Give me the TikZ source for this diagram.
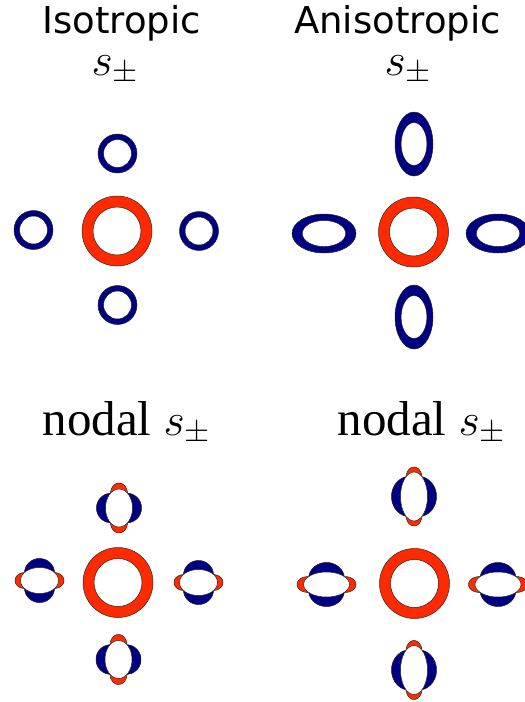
\RequirePackage{fix-cm}
\documentclass[tikz,border=0pt]{standalone}
\usepackage{fontspec}
\usepackage{amsmath}
\newfontfamily\titlefont{DejaVu Sans}
\newfontfamily\nodalfont{Liberation Serif}
\usepackage{tikz}
\usetikzlibrary{positioning}
\definecolor{posred}{RGB}{255,42,0}
\definecolor{negblue}{RGB}{0,0,130}

\begin{document}
\begin{tikzpicture}[x=1pt, y=-1pt,
  title/.style={font=\titlefont\fontsize{37}{44}\selectfont, inner sep=0pt, anchor=base},
  symlbl/.style={font=\fontsize{46}{56}\selectfont, inner sep=0pt, anchor=base},
  nodallbl/.style={font=\nodalfont\fontsize{49}{58}\selectfont, inner sep=0pt, anchor=base},
  edge/.style={draw=black!85, line width=0.5pt},
  hole/.style={fill=white, draw=black!85, line width=0.5pt}]

  \useasboundingbox (0,0) rectangle (525,702);

  % ---- Titles ----
  \node[title]  (isotitle) at (121.5,33) {Isotropic};
  \node[title]  (anititle) at (397.5,33) {Anisotropic};
  \node[symlbl] (isosym)   at (115,75)   {$s_\pm$};
  \node[symlbl] (anisym)   at (408,75)   {$s_\pm$};
  \node[nodallbl] (isonodal) at (126.5,435) {nodal \fontsize{46}{56}\selectfont$s_\pm$};
  \node[nodallbl] (aninodal) at (421.5,435) {nodal \fontsize{46}{56}\selectfont$s_\pm$};

  % ---- Central hole pockets (sign +) ----
  \foreach \cx/\cy in {117/231, 413.5/232, 118/582.5, 414.5/583.5}
    \fill[posred, edge, even odd rule]
      (\cx,\cy) circle[x radius=35, y radius=35]
      (\cx,\cy) circle[x radius=24, y radius=24];

  % ---- Isotropic electron pockets (sign -) ----
  \foreach \cx/\cy in {117.5/153.5, 33.5/230, 199/231, 117.5/305}
    \fill[negblue, edge, even odd rule]
      (\cx,\cy) circle[x radius=19.5, y radius=19.5]
      (\cx,\cy) circle[x radius=14, y radius=14];

  % ---- Anisotropic electron pockets ----
  \foreach \cx/\cy/\rx/\ry in {414/144/19/32, 414/317/19/32,
                               324/233.5/32/19.5, 498/233.5/32/19.5}
    \fill[negblue, edge, even odd rule]
      (\cx,\cy) circle[x radius=\rx, y radius=\ry]
      (\cx,\cy) circle[x radius=\rx*0.68, y radius=\ry*0.67];

  % ---- Nodal electron pockets: gap A + B cos(2t) on an ellipse ----
  \foreach \cx/\cy/\rot/\ra/\rb/\dr/\db in {
      119/508/90/19/13.5/6/9, 118.5/659.5/90/19/13.5/6/9,
      39.5/580.5/0/19/13/5.5/9, 198.5/582.5/0/19/13/5.5/9,
      414/496.5/90/24.5/13.5/5/9, 414/670/90/24.5/13.5/5/9,
      326.5/584.5/0/23/12.5/6.5/9.5, 498/584.5/0/23/12.5/6.5/9.5}{
    \pgfmathsetmacro\gA{(\dr-\db)/2}
    \pgfmathsetmacro\gB{(\dr+\db)/2}
    \pgfmathsetmacro\tn{acos(-\gA/\gB)/2}
    \begin{scope}[shift={(\cx,\cy)}, rotate=\rot]
      \fill[posred] plot[domain=0:360, samples=120, smooth]
        ({(\ra+abs(\gA+\gB*cos(2*\x)))*cos(\x)},
         {(\rb+abs(\gA+\gB*cos(2*\x)))*sin(\x)}) -- cycle;
      \fill[negblue] plot[domain=\tn:180-\tn, samples=50]
        ({(\ra+abs(\gA+\gB*cos(2*\x)))*cos(\x)},
         {(\rb+abs(\gA+\gB*cos(2*\x)))*sin(\x)}) -- (0,0) -- cycle;
      \fill[negblue] plot[domain=180+\tn:360-\tn, samples=50]
        ({(\ra+abs(\gA+\gB*cos(2*\x)))*cos(\x)},
         {(\rb+abs(\gA+\gB*cos(2*\x)))*sin(\x)}) -- (0,0) -- cycle;
      \draw[edge] plot[domain=0:360, samples=120, smooth]
        ({(\ra+abs(\gA+\gB*cos(2*\x)))*cos(\x)},
         {(\rb+abs(\gA+\gB*cos(2*\x)))*sin(\x)}) -- cycle;
      \draw[hole] (0,0) circle[x radius=\ra, y radius=\rb];
    \end{scope}
  }
\end{tikzpicture}
\end{document}
